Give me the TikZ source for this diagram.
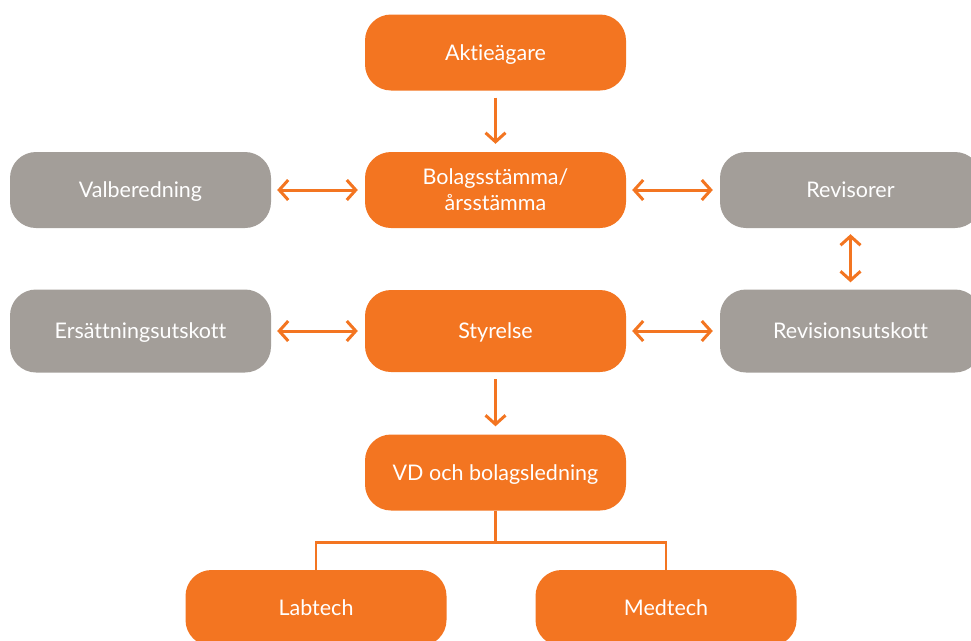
\documentclass[tikz,border=0pt]{standalone}
\usepackage{fontspec}
\setmainfont{Lato}[Ligatures=NoCommon]
\usetikzlibrary{arrows.meta}
\definecolor{org}{HTML}{F37521}
\definecolor{gry}{HTML}{A39E99}
\begin{document}
\begin{tikzpicture}[x=1pt,y=-1pt,
  box/.style={rounded corners=26pt, minimum width=261pt, minimum height=76pt, inner sep=0pt,
    text=white, align=center, font=\fontsize{21.5}{26}\selectfont, text height=15.5pt, text depth=0pt},
  obox/.style={box, fill=org},
  gbox/.style={box, fill=gry},
  arr/.style={draw=org, line width=3pt, -{Straight Barb[length=9pt,width=20pt,line width=3pt]}, shorten >=8pt, shorten <=7pt},
  darr/.style={draw=org, line width=3pt, {Straight Barb[length=9pt,width=20pt,line width=3pt]}-{Straight Barb[length=9pt,width=20pt,line width=3pt]}, shorten >=7pt, shorten <=6pt},
  tree/.style={draw=org, line width=2.5pt}]
\useasboundingbox (0,0) rectangle (971,640);
\clip (0,0) rectangle (971,640);
\node[obox] (akt) at (495.5,52.5) {Aktieägare};
\node[obox, text height=41.5pt] (bol) at (495.5,190) {Bolagsstämma/\\årsstämma};
\node[gbox] (val) at (140.5,190) {Valberedning};
\node[gbox] (rev) at (850.5,190) {Revisorer};
\node[obox, minimum height=82pt] (sty) at (495.5,331) {Styrelse};
\node[gbox, minimum height=83pt] (ers) at (140.5,331) {Ersättningsutskott};
\node[gbox, minimum height=83pt] (rvu) at (850.5,331) {Revisionsutskott};
\node[obox] (vd) at (495.5,472.5) {VD och bolagsledning};
\node[obox] (lab) at (316,608) {Labtech};
\node[obox] (med) at (666,608) {Medtech};
\draw[arr] (akt) -- (bol);
\draw[arr] (sty) -- (vd);
\draw[darr] (val) -- (bol);
\draw[darr] (bol) -- (rev);
\draw[darr] (ers) -- (sty);
\draw[darr] (sty) -- (rvu);
\draw[darr] (rev) -- (rvu);
\draw[tree] (vd.south) -- (vd.south |- 0,542.5) coordinate (jn);
\draw[tree] (lab.north) |- (jn) -| (med.north);
\end{tikzpicture}
\end{document}
